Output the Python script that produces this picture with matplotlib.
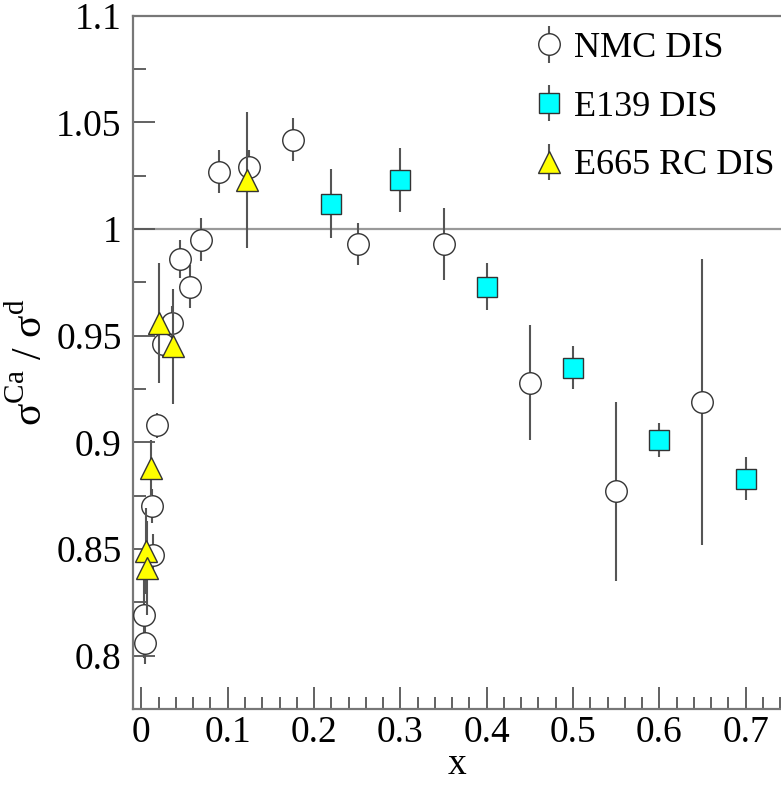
import matplotlib
matplotlib.use("Agg")
import matplotlib.pyplot as plt
from matplotlib.ticker import MultipleLocator

plt.rcParams['font.family'] = ['Liberation Serif', 'DejaVu Serif']
plt.rcParams['mathtext.fontset'] = 'custom'
plt.rcParams['mathtext.rm'] = 'Liberation Serif'

# NMC DIS
nmc_x = [0.0035, 0.0046, 0.014, 0.0124, 0.018, 0.025, 0.036, 0.045, 0.056, 0.069,
         0.090, 0.125, 0.176, 0.251, 0.350, 0.450, 0.550, 0.650]
nmc_y = [0.819, 0.806, 0.847, 0.870, 0.908, 0.946, 0.956, 0.986, 0.973, 0.995,
         1.027, 1.029, 1.042, 0.993, 0.993, 0.928, 0.877, 0.919]
nmc_e = [0.020, 0.010, 0.010, 0.008, 0.006, 0.006, 0.008, 0.009, 0.010, 0.010,
         0.010, 0.008, 0.010, 0.010, 0.017, 0.027, 0.042, 0.067]

# E139 DIS
e139_x = [0.22, 0.30, 0.40, 0.50, 0.60, 0.70]
e139_y = [1.012, 1.023, 0.973, 0.935, 0.901, 0.883]
e139_e = [0.016, 0.015, 0.011, 0.010, 0.008, 0.010]

# E665 RC DIS
e665_x = [0.005, 0.0066, 0.0116, 0.020, 0.037, 0.122]
e665_y = [0.849, 0.841, 0.888, 0.956, 0.945, 1.023]
e665_e = [0.020, 0.022, 0.013, 0.028, 0.027, 0.032]

fig = plt.figure(figsize=(7.81, 7.91), dpi=100)
ax = fig.add_axes([0.170, 0.1037, 0.830, 0.8763])

ax.axhline(1.0, color='#999999', lw=1.6, zorder=1)

ecol = '#555555'
ax.errorbar(nmc_x, nmc_y, yerr=nmc_e, fmt='o', ms=15.5, mfc='white', mec='#333333',
            mew=1.0, ecolor=ecol, elinewidth=1.5, capsize=0, label='NMC DIS', zorder=3)
ax.errorbar(e139_x, e139_y, yerr=e139_e, fmt='s', ms=14.5, mfc='#00ffff', mec='#333333',
            mew=1.0, ecolor=ecol, elinewidth=1.5, capsize=0, label='E139 DIS', zorder=3)
ax.errorbar(e665_x, e665_y, yerr=e665_e, fmt='^', ms=16, mfc='#ffff00', mec='#333333',
            mew=1.0, ecolor=ecol, elinewidth=1.5, capsize=0, label='E665 RC DIS', zorder=4)

ax.set_xlim(-0.010, 0.741)
ax.set_ylim(0.775, 1.1)
ax.xaxis.set_major_locator(MultipleLocator(0.1))
ax.xaxis.set_minor_locator(MultipleLocator(0.02))
ax.yaxis.set_major_locator(MultipleLocator(0.05))
ax.yaxis.set_minor_locator(MultipleLocator(0.025))
ax.set_xticks([0, 0.1, 0.2, 0.3, 0.4, 0.5, 0.6, 0.7])
ax.set_xticklabels(['0', '0.1', '0.2', '0.3', '0.4', '0.5', '0.6', '0.7'])
ax.set_yticks([0.8, 0.85, 0.9, 0.95, 1.0, 1.05, 1.1])
ax.set_yticklabels(['0.8', '0.85', '0.9', '0.95', '1', '1.05', '1.1'])

ax.tick_params(which='major', direction='in', length=16, width=1.3, color='#555555',
               labelsize=27, pad=8)
ax.tick_params(axis='x', which='major', pad=5)
ax.tick_params(which='minor', direction='in', length=9, width=1.3, color='#555555')
ax.tick_params(top=False, right=False, which='both')
for s in ['left', 'bottom', 'top']:
    ax.spines[s].set_color('#777777')
    ax.spines[s].set_linewidth(1.6)
ax.spines['right'].set_visible(False)

ax.set_xlabel('x', fontsize=27, labelpad=-2)
ax.set_ylabel(r'σ$^{\mathrm{Ca}}$ / σ$^{\mathrm{d}}$', fontsize=30, labelpad=4)

ax.legend(loc='upper left', bbox_to_anchor=(0.666, 0.978), bbox_transform=fig.transFigure,
          frameon=False, fontsize=26, handlelength=0.8, handletextpad=0.3,
          labelspacing=0.7, borderaxespad=0)

fig.savefig('out.png', dpi=100)
